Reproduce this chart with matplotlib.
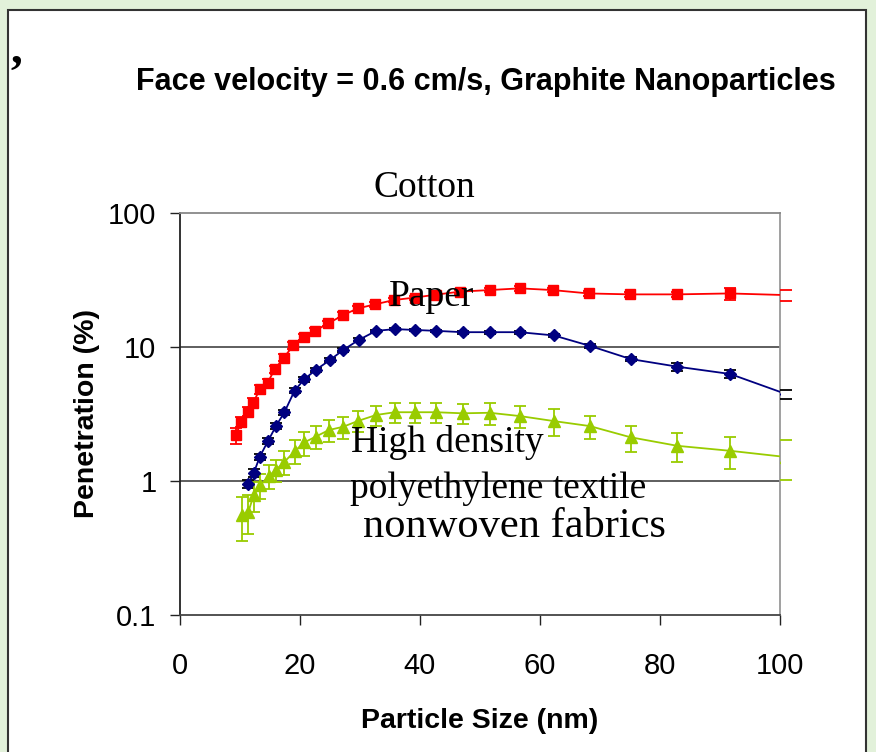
import numpy as np
import matplotlib
matplotlib.use("Agg")
import matplotlib.pyplot as plt
from matplotlib.patches import Rectangle

# data (particle size in nm, penetration in %)
cotton_x = [9.3, 10.2, 11.3, 12.2, 13.3, 14.6, 15.8, 17.3, 18.9, 20.7, 22.5, 24.7, 27.2, 29.6,
            32.5, 35.6, 39.2, 42.7, 46.7, 51.6, 56.6, 62.1, 68.1, 75.0, 82.8, 91.6, 101.0]
cotton_y = [2.2, 2.77, 3.29, 3.84, 4.83, 5.42, 6.82, 8.32, 10.3, 11.9, 13.2, 15.0, 17.3, 19.4,
            20.8, 22.4, 23.4, 24.6, 25.9, 26.6, 27.4, 26.6, 25.1, 24.7, 24.7, 25.1, 24.4]
cotton_err = [0.3, 0.25, 0.25, 0.3, 0.35, 0.35, 0.4, 0.5, 0.6, 0.6, 0.6, 0.7, 0.8, 0.8,
              0.8, 0.8, 0.8, 0.8, 0.9, 0.9, 1.0, 1.0, 1.0, 1.0, 1.2, 2.5, 2.3]

paper_x = [11.4, 12.3, 13.3, 14.7, 16.0, 17.4, 19.1, 20.7, 22.6, 25.0, 27.2, 29.8, 32.7,
           35.8, 39.2, 42.7, 47.1, 51.6, 56.6, 62.3, 68.3, 75.1, 82.9, 91.7, 101.0]
paper_y = [0.95, 1.15, 1.52, 2.0, 2.57, 3.26, 4.72, 5.74, 6.73, 8.0, 9.5, 11.3, 13.2,
           13.6, 13.4, 13.2, 12.9, 12.9, 12.9, 12.2, 10.2, 8.13, 7.13, 6.29, 4.46]
paper_err = [0.06, 0.07, 0.08, 0.1, 0.12, 0.15, 0.2, 0.25, 0.25, 0.3, 0.3, 0.3, 0.3,
             0.3, 0.3, 0.3, 0.3, 0.3, 0.3, 0.3, 0.3, 0.3, 0.5, 0.45, 0.35]

hdpe_x = [10.3, 11.4, 12.3, 13.4, 14.8, 16.0, 17.4, 19.2, 20.7, 22.6, 24.8, 27.2, 29.7,
          32.7, 35.8, 39.2, 42.7, 47.1, 51.6, 56.7, 62.3, 68.3, 75.1, 82.9, 91.7, 101.0]
hdpe_y = [0.557, 0.59, 0.787, 0.93, 1.09, 1.21, 1.39, 1.68, 1.94, 2.14, 2.40, 2.54, 2.81,
          3.11, 3.26, 3.26, 3.26, 3.2, 3.23, 3.05, 2.8, 2.57, 2.12, 1.83, 1.68, 1.51]
hdpe_err = [0.2, 0.19, 0.2, 0.2, 0.22, 0.22, 0.28, 0.35, 0.4, 0.42, 0.45, 0.48, 0.5,
            0.52, 0.55, 0.55, 0.55, 0.55, 0.6, 0.56, 0.62, 0.5, 0.47, 0.45, 0.45, 0.5]

y_ticks = [0.1, 1, 10, 100]
y_ticklabels = ["0.1", "1", "10", "100"]
x_ticks = [0, 20, 40, 60, 80, 100]

W, H = 876, 752
fig = plt.figure(figsize=(W / 100, H / 100), dpi=100)
fig.patch.set_facecolor("#e2f1da")
fig.patches.append(Rectangle((8 / W, -0.01), (866 - 8) / W, 1.01 - 10 / H, transform=fig.transFigure,
                             facecolor="white", edgecolor="#333333", lw=1.5, zorder=-5))

def fx(px):
    return px / W

def fy(py):
    return 1 - py / H

ax = fig.add_axes([fx(180), fy(615), fx(780) - fx(180), fy(213) - fy(615)])
ax.set_zorder(2)
ax.set_facecolor("none")
ax.set_yscale("log")
ax.set_xlim(0, 100)
ax.set_ylim(0.1, 100)

for yy in [1, 10]:
    ax.axhline(yy, color="#333333", lw=1.1, zorder=1)

series = [
    (cotton_x, cotton_y, cotton_err, "#ff0000", "#ff0000", "s", 7),
    (paper_x, paper_y, paper_err, "#000080", "#000000", "D", 6.5),
    (hdpe_x, hdpe_y, hdpe_err, "#99cc00", "#99cc00", "^", 8.5),
]
for xs, ys, es, col, ecol, mk, ms in series:
    eb = ax.errorbar(xs, ys, yerr=es, fmt="-" + mk, color=col, ecolor=ecol, ms=ms,
                     lw=1.3, elinewidth=1.3, capsize=4, capthick=1.3, zorder=3)
    for cap in eb[1]:
        cap.set_clip_on(False)

ax.set_yticks(y_ticks)
ax.set_yticklabels(y_ticklabels)
ax.yaxis.set_minor_locator(matplotlib.ticker.NullLocator())
ax.set_xticks(x_ticks)
ax.tick_params(axis="both", direction="out", length=7, width=1, labelsize=21,
               colors="#222222", labelcolor="black")
ax.tick_params(axis="y", pad=10)
ax.tick_params(axis="x", pad=20)

ax.spines["left"].set_color("#222222")
ax.spines["bottom"].set_color("#444444")
ax.spines["right"].set_color("#999999")
ax.spines["top"].set_color("#888888")
for s in ax.spines.values():
    s.set_linewidth(1.3)

sans = "Liberation Sans"
serif = "Liberation Serif"
plt.rcParams["font.family"] = sans

ax.set_xlabel("Particle Size (nm)", fontsize=20.5, fontweight="bold", labelpad=20, family=sans)
ax.set_ylabel("Penetration (%)", fontsize=20.5, fontweight="bold", labelpad=6, family=sans)
for t in ax.get_xticklabels() + ax.get_yticklabels():
    t.set_family(sans)

fig.text(fx(486), fy(82), "Face velocity = 0.6 cm/s, Graphite Nanoparticles",
         ha="center", va="center", fontsize=22, fontweight="bold", family=sans)
fig.text(fx(16), fy(52), ",", ha="center", va="center", fontsize=34, fontweight="bold", family=serif)

labels = [
    ("Cotton", 424, 188, 27),
    ("Paper", 432, 297, 27),
    ("High density", 447, 442, 27),
    ("polyethylene textile", 498, 489, 27),
    ("nonwoven fabrics", 514, 527, 30.5),
]
for txt, px, py, fs in labels:
    fig.text(fx(px), fy(py), txt, ha="center", va="center", fontsize=fs, family=serif, zorder=5)

fig.savefig("out.png", dpi=100, facecolor=fig.get_facecolor())
